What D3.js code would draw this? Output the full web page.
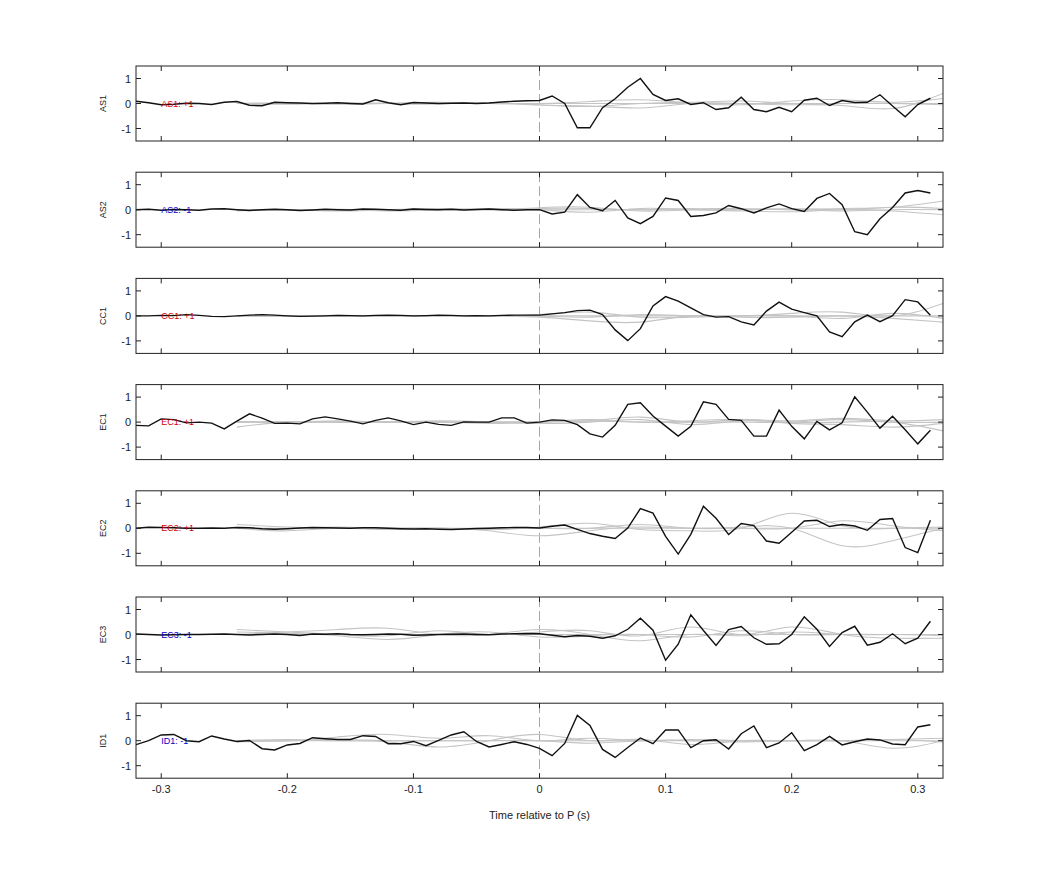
<!DOCTYPE html>
<html><head><meta charset="utf-8">
<script src="https://cdn.jsdelivr.net/npm/d3@7/dist/d3.min.js"></script>
<style>body{margin:0;background:#fff}svg{font-family:"Liberation Sans",Arial,sans-serif}</style>
</head><body><svg id="c" width="1042" height="875"></svg>
<script>
const channels = ["AS1","AS2","CC1","EC1","EC2","EC3","ID1"];
const labels = ["AS1: +1","AS2: -1","CC1: +1","EC1: +1","EC2: +1","EC3: -1","ID1: -1"];
const labelColors = ["#d40000","#0000c8","#d40000","#d40000","#d40000","#0000c8","#0000c8"];
const xTicks = [-0.3,-0.2,-0.1,0,0.1,0.2,0.3];
const yTicks = [-1,0,1];
// black traces, t = -0.32 .. 0.31 step 0.01
const traceAS1 = [0.09,0.03,-0.05,-0.03,0.01,0.0,-0.04,0.05,0.08,-0.07,-0.09,0.05,0.03,0.02,0.0,0.01,0.03,0.0,-0.02,0.15,0.03,-0.05,0.04,0.02,0.0,0.01,0.02,0.0,0.02,0.06,0.09,0.11,
 0.12,0.3,0.0,-0.97,-0.97,-0.17,0.19,0.65,1.0,0.36,0.12,0.19,-0.04,0.03,-0.24,-0.17,0.25,-0.24,-0.33,-0.15,-0.33,0.13,0.21,-0.08,0.12,0.04,0.05,0.35,-0.1,-0.53,-0.04,0.21];
const traceAS2 = [0.0,0.02,-0.02,0.01,0.0,-0.02,0.03,0.04,0.0,-0.03,0.0,0.02,0.0,-0.03,-0.01,0.02,0.0,-0.01,0.03,0.02,0.0,-0.02,0.03,0.01,0.0,0.02,-0.01,0.01,0.03,0.0,-0.02,0.0,
 0.0,-0.17,-0.1,0.6,0.09,-0.04,0.37,-0.33,-0.56,-0.27,0.47,0.37,-0.27,-0.23,-0.13,0.17,0.04,-0.13,0.07,0.23,0.04,-0.07,0.45,0.65,0.2,-0.88,-1.0,-0.36,0.09,0.67,0.77,0.67];
const traceCC1 = [0.0,0.0,0.02,0.01,0.05,0.02,-0.02,-0.03,0.0,0.03,0.05,0.03,0.0,-0.02,-0.01,0.0,0.02,0.01,0.0,0.02,0.03,0.02,0.0,0.01,0.03,0.02,0.0,0.01,0.0,0.02,0.03,0.03,
 0.03,0.08,0.13,0.21,0.23,0.05,-0.56,-0.99,-0.51,0.4,0.77,0.59,0.32,0.05,-0.05,-0.03,-0.24,-0.36,0.19,0.55,0.27,0.13,0.0,-0.64,-0.83,-0.24,0.03,-0.23,0.01,0.65,0.56,0.03];
const traceEC1 = [-0.13,-0.15,0.13,0.1,-0.03,0.0,-0.04,-0.27,0.04,0.33,0.16,-0.05,-0.04,-0.07,0.13,0.21,0.13,0.04,-0.07,0.07,0.17,0.05,-0.1,0.0,-0.09,-0.13,0.01,0.0,0.0,0.17,0.17,-0.04,
 0.0,0.09,0.07,-0.1,-0.47,-0.6,-0.13,0.71,0.77,0.24,-0.16,-0.56,-0.17,0.81,0.71,0.11,0.07,-0.56,-0.56,0.48,-0.17,-0.67,0.03,-0.31,-0.03,1.01,0.4,-0.24,0.23,-0.31,-0.87,-0.33];
const traceEC2 = [0.0,0.04,0.03,0.02,0.0,0.0,0.01,0.0,0.03,0.02,-0.02,-0.04,-0.02,0.01,0.03,0.02,0.01,0.0,0.02,0.02,0.0,-0.02,-0.03,-0.02,-0.04,-0.05,-0.03,-0.01,0.0,0.02,0.03,0.03,
 0.01,0.08,0.13,-0.04,-0.21,-0.32,-0.41,0.01,0.79,0.61,-0.32,-1.03,-0.24,0.88,0.4,-0.25,0.19,0.11,-0.51,-0.6,-0.16,0.29,0.32,0.07,0.15,0.09,-0.08,0.35,0.39,-0.77,-0.97,0.32];
const traceEC3 = [0.02,0.0,-0.02,-0.01,0.0,0.0,0.01,0.02,0.0,-0.02,0.0,0.02,0.0,-0.04,0.02,0.01,0.03,0.0,-0.01,0.0,0.02,0.01,-0.03,-0.02,0.0,0.01,0.02,0.0,-0.01,0.02,0.03,0.04,
 0.03,-0.03,-0.09,-0.04,-0.07,-0.15,-0.05,0.21,0.65,0.17,-1.03,-0.39,0.79,0.16,-0.44,0.2,0.32,-0.13,-0.39,-0.37,0.0,0.71,0.21,-0.48,0.08,0.33,-0.43,-0.31,0.03,-0.37,-0.15,0.53];
const traceID1 = [-0.16,0.0,0.23,0.25,0.0,-0.04,0.19,0.07,-0.03,0.01,-0.32,-0.37,-0.17,-0.11,0.12,0.08,0.05,0.05,0.2,0.17,-0.12,-0.12,-0.03,-0.2,0.01,0.23,0.36,-0.03,-0.25,-0.15,-0.04,-0.15,
 -0.31,-0.6,-0.11,1.01,0.61,-0.35,-0.67,-0.27,0.11,-0.12,0.43,0.43,-0.28,0.0,0.04,-0.33,0.28,0.59,-0.28,-0.09,0.32,-0.4,-0.16,0.17,-0.17,-0.04,0.07,0.03,-0.13,-0.16,0.55,0.64];
const traces = [traceAS1,traceAS2,traceCC1,traceEC1,traceEC2,traceEC3,traceID1];
// grey smooth traces, t = -0.24 .. 0.32 step 0.04
const greyAS1 = [[0.0,0.02,-0.03,0.0,0.05,0.0,0.0,0.08,0.15,0.02,-0.05,0.1,0.15,0.05,0.2],[0.0,-0.03,0.02,0.0,-0.02,0.04,-0.06,-0.1,-0.18,0.0,0.0,-0.05,-0.08,-0.2,0.4],[0.0,0.0,0.0,0.02,0.0,0.0,-0.05,-0.12,0.0,0.05,0.1,0.0,0.0,0.0,-0.05],[0.0,0.0,0.0,0.0,0.0,0.0,0.0,0.0,0.0,0.0,0.0,0.0,0.0,0.0,0.0]];
const greyAS2 = [[-0.05,0.0,-0.05,0.0,0.05,0.0,0.08,0.1,-0.05,0.0,0.05,0.0,0.05,0.1,0.35],[0.0,-0.02,0.0,-0.05,0.0,0.05,0.0,-0.1,0.05,0.0,-0.05,-0.08,0.0,-0.05,-0.2],[0.0,0.0,0.02,0.0,0.0,0.0,0.05,0.05,0.0,0.05,0.0,0.05,0.0,0.1,0.05],[0.0,0.0,0.0,0.0,0.0,0.0,0.0,0.0,0.0,0.0,0.0,0.0,-0.05,0.0,0.0]];
const greyCC1 = [[0.0,0.0,0.02,0.0,0.0,0.0,0.05,0.15,-0.05,-0.05,0.0,0.1,0.15,0.0,0.5],[0.0,0.0,0.0,-0.02,0.0,0.0,-0.05,-0.2,-0.25,0.0,-0.05,-0.05,0.0,-0.1,-0.25],[0.0,0.0,0.0,0.0,0.0,0.0,0.0,-0.05,0.05,0.0,0.0,0.0,-0.1,0.1,-0.1],[0.0,0.0,0.0,0.0,0.0,0.0,0.0,0.0,0.0,0.0,0.0,0.0,0.0,0.0,0.0]];
const greyEC1 = [[-0.2,0.0,0.0,0.02,0.0,0.0,0.02,0.05,0.2,0.0,0.1,0.05,0.15,0.05,0.1],[0.0,0.02,0.0,0.0,0.05,0.0,-0.05,0.0,0.1,-0.1,0.05,0.0,0.0,0.0,-0.35],[0.02,0.0,0.05,0.0,0.0,-0.05,0.0,0.05,0.0,0.05,0.1,-0.05,-0.1,-0.2,-0.05],[0.0,0.0,0.0,0.0,0.0,0.0,0.0,0.1,0.0,0.0,0.0,0.0,0.1,0.0,0.0]];
const greyEC2 = [[0.15,0.05,0.0,0.0,0.0,-0.05,0.05,0.2,-0.05,-0.1,0.0,0.6,0.1,0.0,0.05],[0.0,-0.1,0.0,-0.05,0.0,-0.1,-0.3,-0.1,0.05,0.0,0.05,0.0,-0.7,-0.5,0.0],[0.0,0.0,0.05,0.0,0.0,-0.02,0.0,0.0,0.15,0.0,0.0,0.0,0.3,0.1,-0.1],[0.0,0.0,0.0,0.0,0.0,0.0,0.0,0.0,0.0,0.0,0.0,0.0,0.0,0.0,0.0]];
const greyEC3 = [[0.2,0.1,0.0,-0.05,0.15,0.0,0.1,0.15,-0.05,0.3,0.0,0.3,0.0,-0.15,-0.15],[0.1,0.05,-0.05,-0.2,0.0,0.1,-0.1,-0.05,0.0,-0.1,0.15,0.0,0.0,0.0,0.0],[0.0,0.1,0.2,0.25,0.0,0.0,0.2,0.0,-0.25,0.0,-0.05,0.1,0.0,0.0,-0.05],[0.0,0.0,0.0,0.0,0.0,0.0,0.0,0.0,0.0,0.0,0.0,0.0,0.0,0.0,0.0]];
const greyID1 = [[0.0,0.0,0.15,0.25,0.1,0.2,0.0,0.1,0.0,0.05,0.0,0.0,0.0,0.05,0.1],[0.0,0.05,0.0,-0.05,-0.25,0.0,0.25,0.0,0.05,-0.15,0.0,0.0,0.0,-0.3,0.0],[-0.05,0.0,0.05,0.0,0.0,0.0,0.0,-0.1,0.0,0.0,-0.05,0.0,0.0,0.05,-0.05],[0.0,0.0,0.0,0.0,0.0,0.0,0.0,0.0,0.0,0.0,0.0,0.0,0.0,0.0,0.0]];
const greys = [greyAS1,greyAS2,greyCC1,greyEC1,greyEC2,greyEC3,greyID1];

const svg = d3.select("#c");
const L=136,R=943,T0=66,H=75,STEP=106.2;
const x = d3.scaleLinear().domain([-0.32,0.32]).range([L,R]);
const tBlack = d3.range(64).map(i=>-0.32+i*0.01);
const tGrey = d3.range(15).map(i=>-0.24+i*0.04);
const tk=5;
channels.forEach((ch,k)=>{
  const top=T0+k*STEP;
  const y=d3.scaleLinear().domain([-1.5,1.5]).range([top+H,top]);
  const g=svg.append("g");
  g.append("defs").append("clipPath").attr("id","cp"+k).append("rect").attr("x",L).attr("y",top).attr("width",R-L).attr("height",H);
  const pg=g.append("g").attr("clip-path",`url(#cp${k})`);
  pg.append("line").attr("x1",x(0)).attr("x2",x(0)).attr("y1",top).attr("y2",top+H).attr("stroke","#e88").attr("stroke-width",1).attr("stroke-dasharray","10,4");
  greys[k].forEach(s=>{
    pg.append("path").datum(s).attr("fill","none").attr("stroke","#c4c4c4").attr("stroke-width",1.1)
      .attr("d",d3.line().x((d,i)=>x(tGrey[i])).y(d=>y(d)).curve(d3.curveNatural));
  });
  pg.append("path").datum(traces[k]).attr("fill","none").attr("stroke","#111").attr("stroke-width",1.4)
    .attr("d",d3.line().x((d,i)=>x(tBlack[i])).y(d=>y(d)));
  g.append("rect").attr("x",L).attr("y",top).attr("width",R-L).attr("height",H).attr("fill","none").attr("stroke","#222").attr("stroke-width",1);
  xTicks.forEach(v=>{
    g.append("line").attr("x1",x(v)).attr("x2",x(v)).attr("y1",top).attr("y2",top+tk).attr("stroke","#222");
    g.append("line").attr("x1",x(v)).attr("x2",x(v)).attr("y1",top+H).attr("y2",top+H-tk).attr("stroke","#222");
  });
  yTicks.forEach(v=>{
    g.append("line").attr("x1",L).attr("x2",L+tk).attr("y1",y(v)).attr("y2",y(v)).attr("stroke","#222");
    g.append("line").attr("x1",R).attr("x2",R-tk).attr("y1",y(v)).attr("y2",y(v)).attr("stroke","#222");
    g.append("text").attr("x",L-5).attr("y",y(v)+4).attr("text-anchor","end").attr("font-size",11).attr("fill","#222").text(v);
  });
  g.append("text").attr("transform",`translate(106,${y(0)}) rotate(-90)`).attr("text-anchor","middle").attr("font-size",9).attr("fill","#222").text(ch);
  g.append("text").attr("x",x(-0.30)).attr("y",y(0)+3).attr("font-size",9).attr("fill",labelColors[k]).text(labels[k]);
  if(k===channels.length-1){
    xTicks.forEach(v=>{
      g.append("text").attr("x",x(v)).attr("y",top+H+15).attr("text-anchor","middle").attr("font-size",11).attr("fill","#222").text(v===0?"0":String(v));
    });
    g.append("text").attr("x",(L+R)/2).attr("y",top+H+41).attr("text-anchor","middle").attr("font-size",11).attr("fill","#222").text("Time relative to P (s)");
  }
});
</script></body></html>
